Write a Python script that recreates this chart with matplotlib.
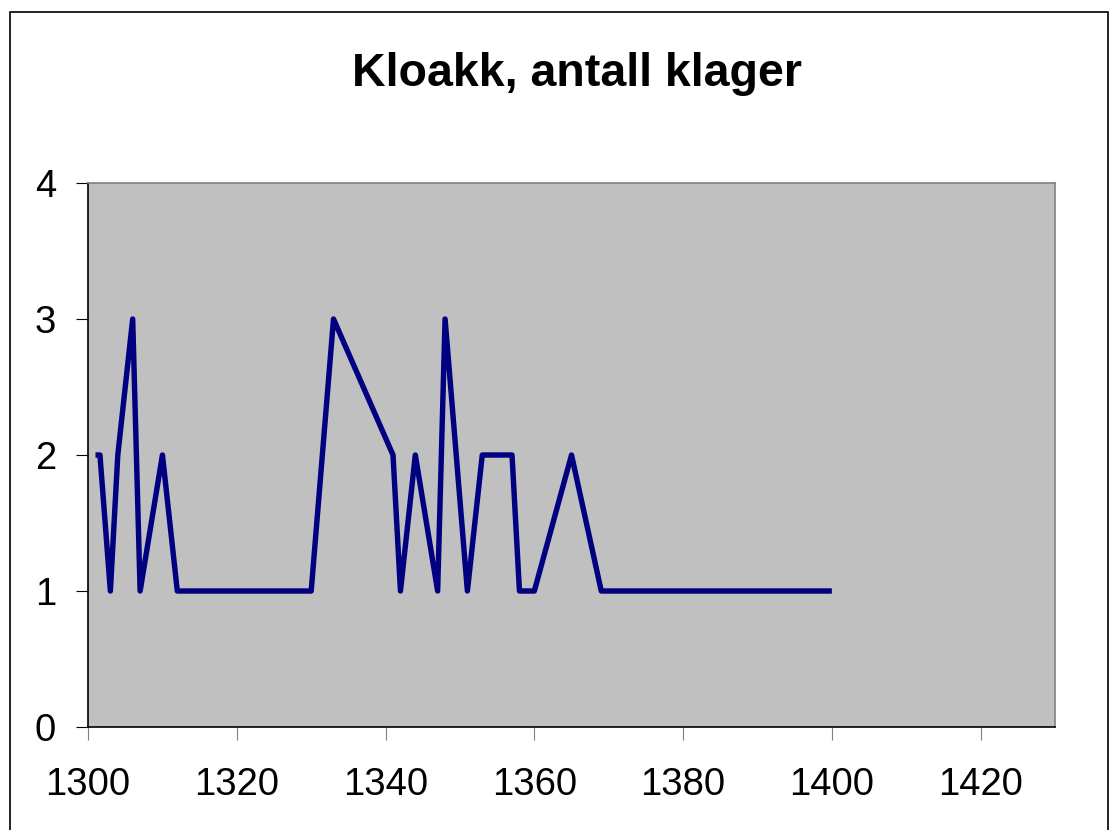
import matplotlib
matplotlib.use('Agg')
import matplotlib.pyplot as plt
from matplotlib.patches import Rectangle

plt.rcParams['font.family'] = ['Liberation Sans', 'DejaVu Sans']

# data: postnummer / antall klager
postnr = [1301, 1301.6, 1303, 1304, 1306, 1307, 1310, 1312, 1330, 1333,
          1341, 1342, 1344, 1347, 1348, 1351, 1353, 1357, 1358, 1360,
          1365, 1369, 1400]
klager = [2, 2, 1, 2, 3, 1, 2, 1, 1, 3,
          2, 1, 2, 1, 3, 1, 2, 2, 1, 1,
          2, 1, 1]
x_ticks = [1300, 1320, 1340, 1360, 1380, 1400, 1420]
y_ticks = [0, 1, 2, 3, 4]

fig = plt.figure(figsize=(11.09, 8.30), dpi=100)
ax = fig.add_axes([0.0794, 0.1241, 0.8719, 0.6554])

# ytre ramme rundt diagrammet
fig.patches.append(Rectangle((9.5 / 1109, -0.1), 1098 / 1109, 1.1 - 12 / 830,
                             transform=fig.transFigure, fill=False,
                             edgecolor='black', linewidth=1.2))

ax.set_facecolor('#C0C0C0')
ax.plot(postnr, klager, color='#000080', linewidth=3.9,
        solid_capstyle='butt', solid_joinstyle='round')

ax.set_xlim(1300, 1430)
ax.set_ylim(0, 4)
ax.set_xticks(x_ticks)
ax.set_yticks(y_ticks)
ax.tick_params(axis='both', labelsize=27.5, length=9, direction='out')
ax.tick_params(axis='x', pad=20, color='#808080')
ax.tick_params(axis='y', pad=14, color='black')

for side in ['top', 'right']:
    ax.spines[side].set_color('#808080')
for side in ['left', 'bottom']:
    ax.spines[side].set_color('black')
for s in ax.spines.values():
    s.set_linewidth(1.2)

fig.text(0.52, 1 - 86 / 830, 'Kloakk, antall klager', ha='center',
         va='baseline', fontsize=33.5, fontweight='bold')

fig.savefig('out.png', dpi=100)
